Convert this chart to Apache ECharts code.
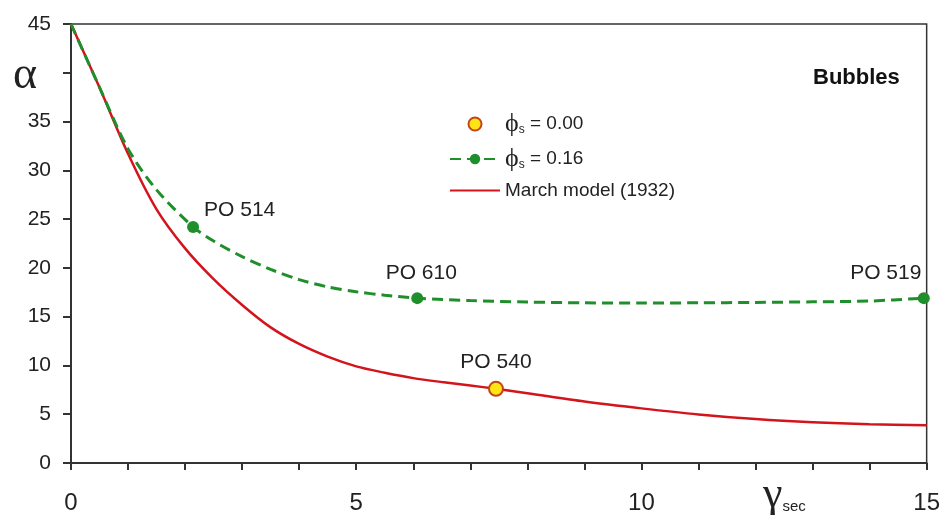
<!DOCTYPE html>
<html>
<head>
<meta charset="utf-8">
<script src="https://cdn.jsdelivr.net/npm/echarts@6/dist/echarts.min.js"></script>
<style>
  html, body { margin: 0; padding: 0; background: #fff; }
  #chart { width: 943px; height: 515px; }
</style>
</head>
<body>
<div id="chart"></div>
<script>
// March model (1932)
var marchX = [0, 0.5, 1, 1.5, 2, 2.5, 3, 3.5, 4, 4.5, 5, 5.5, 6, 6.5, 7, 7.45, 8, 9, 10, 11, 12, 13, 14, 15];
var marchY = [45, 38.5, 31.7, 26.0, 22.0, 18.85, 16.2, 13.9, 12.2, 10.9, 9.9, 9.25, 8.7, 8.3, 7.95, 7.6, 7.15, 6.3, 5.6, 4.98, 4.5, 4.17, 3.97, 3.88];

// phi_s = 0.16 fitted curve
var fitX = [0, 0.5, 1, 1.5, 2.14, 2.5, 3, 3.5, 4, 4.5, 5, 5.5, 6.07, 7, 8, 9, 10, 11, 12, 13, 14, 14.95];
var fitY = [45, 38.5, 32.2, 28.0, 24.2, 22.75, 21.15, 19.85, 18.8, 18.05, 17.55, 17.2, 16.9, 16.65, 16.5, 16.42, 16.4, 16.42, 16.46, 16.52, 16.6, 16.9];

// measured samples
var greenX = [2.14, 6.07, 14.95];
var greenY = [24.2, 16.9, 16.9];
var greenNames = ['PO 514', 'PO 610', 'PO 519'];
var yellowX = [7.45];
var yellowY = [7.6];
var yellowNames = ['PO 540'];

var legendNames = ['ϕs = 0.00', 'ϕs = 0.16', 'March model (1932)'];

function pairs(xs, ys) {
  return xs.map(function (x, i) { return [x, ys[i]]; });
}

var labelFont = { fontFamily: 'Liberation Sans, Arial', fontSize: 21, color: '#222', opacity: 1 };
var greenLabelPos = [
  { position: 'right', distance: 5, offset: [0, -17] },
  { position: 'top', distance: 8, offset: [4, 0] },
  { position: 'top', distance: 8, offset: [-38, 0] }
];

var chart = echarts.init(document.getElementById('chart'));
chart.setOption({
  backgroundColor: '#fff',
  animation: false,
  grid: { left: 71, right: 16, top: 24, bottom: 50, show: true, borderColor: '#333', borderWidth: 1.5 },
  title: {
    text: 'Bubbles', left: 808, top: 62,
    textStyle: { fontFamily: 'Liberation Sans, Arial', fontSize: 22, fontWeight: 'bold', color: '#111' }
  },
  legend: {
    data: [
      { name: legendNames[0] },
      { name: legendNames[1] },
      { name: legendNames[2], itemStyle: { opacity: 0 } }
    ],
    orient: 'vertical', left: 444, top: 106,
    itemWidth: 50, itemHeight: 13, itemGap: 9,
    formatter: function (name) {
      if (name.indexOf('ϕs') === 0) return '{p|ϕ}{s|s}{t|' + name.slice(2) + '}';
      return '{t|' + name + '}';
    },
    textStyle: {
      rich: {
        p: { fontFamily: 'Liberation Serif', fontSize: 26, color: '#222' },
        s: { fontFamily: 'Liberation Sans', fontSize: 12, color: '#222', padding: [12, 0, 0, 0] },
        t: { fontFamily: 'Liberation Sans', fontSize: 19, color: '#222' }
      }
    }
  },
  xAxis: {
    type: 'value', min: 0, max: 15, interval: 5,
    axisLine: { show: true, lineStyle: { color: '#333', width: 2 } },
    axisTick: { show: true, length: 7, lineStyle: { color: '#333', width: 2 } },
    minorTick: { show: true, splitNumber: 5, length: 7, lineStyle: { color: '#333', width: 2 } },
    splitLine: { show: false },
    axisLabel: { margin: 28, fontFamily: 'Liberation Sans, Arial', fontSize: 24, color: '#222' }
  },
  yAxis: {
    type: 'value', min: 0, max: 45, interval: 5,
    axisLine: { show: true, lineStyle: { color: '#333', width: 2 } },
    axisTick: { show: true, length: 8, lineStyle: { color: '#333', width: 2 } },
    splitLine: { show: false },
    axisLabel: {
      margin: 20, fontFamily: 'Liberation Sans, Arial', fontSize: 21, color: '#222',
      formatter: function (v) { return v === 40 ? '' : String(v); }
    }
  },
  graphic: [
    { type: 'text', left: 13, top: 53, style: { text: 'α', font: '46px "Liberation Serif"', fill: '#222' } },
    {
      type: 'text', left: 763, top: 473,
      style: {
        text: '{g|γ}{s|sec}',
        rich: {
          g: { fontFamily: 'Liberation Serif', fontSize: 44, fill: '#222' },
          s: { fontFamily: 'Liberation Sans', fontSize: 15, fill: '#222', padding: [24, 0, 0, 0] }
        }
      }
    }
  ],
  series: [
    {
      name: legendNames[0], type: 'scatter', z: 5,
      symbolSize: 14,
      itemStyle: { color: '#ffe415', borderColor: '#c4441a', borderWidth: 2, opacity: 1 },
      label: { show: true, position: 'top', distance: 8, formatter: '{b}' },
      data: yellowX.map(function (x, i) {
        return { name: yellowNames[i], value: [x, yellowY[i]], label: labelFont };
      })
    },
    {
      name: legendNames[1], type: 'line', smooth: 0.3, z: 3,
      symbol: 'circle', symbolSize: 11, showSymbol: false,
      itemStyle: { color: '#1e8f2a' },
      lineStyle: { color: '#1e8f2a', width: 3, type: [11, 6] },
      data: pairs(fitX, fitY)
    },
    {
      name: 'green samples', type: 'scatter', z: 4,
      symbolSize: 12,
      itemStyle: { color: '#1e8f2a', opacity: 1 },
      data: greenX.map(function (x, i) {
        return {
          name: greenNames[i], value: [x, greenY[i]],
          label: Object.assign({ show: true, formatter: '{b}' }, labelFont, greenLabelPos[i])
        };
      })
    },
    {
      name: legendNames[2], type: 'line', smooth: 0.3, z: 2,
      symbol: 'none',
      itemStyle: { color: '#d3141c' },
      lineStyle: { color: '#d3141c', width: 2.5 },
      data: pairs(marchX, marchY)
    }
  ]
});
</script>
</body>
</html>
